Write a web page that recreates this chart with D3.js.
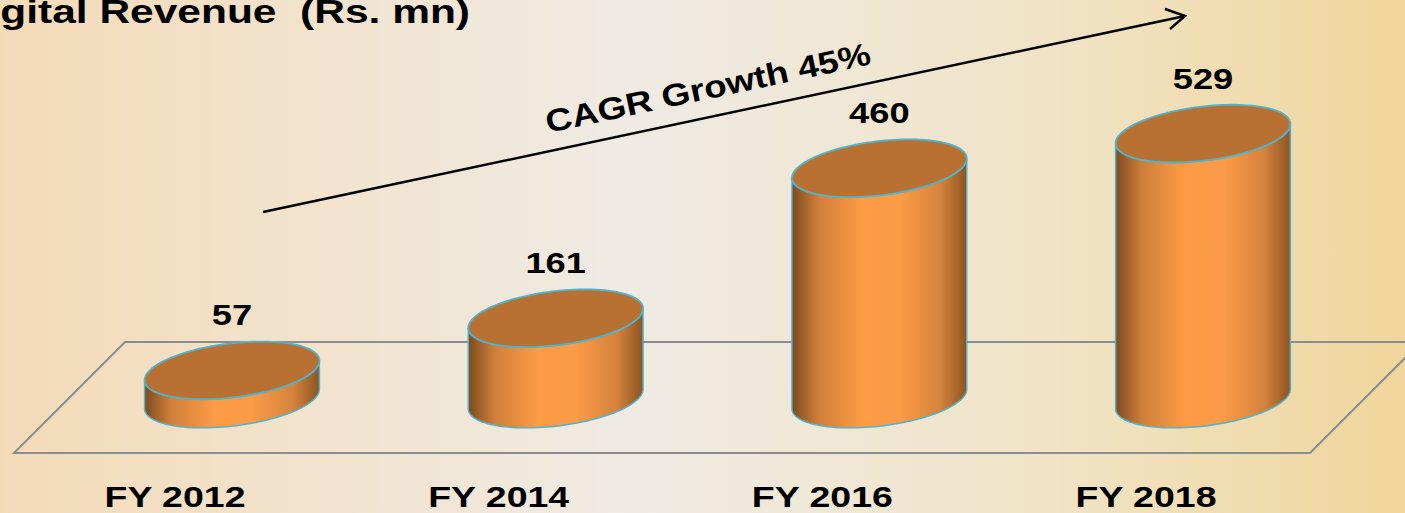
<!DOCTYPE html>
<html>
<head>
<meta charset="utf-8">
<script src="https://cdn.jsdelivr.net/npm/d3@7"></script>
<style>
  body { margin: 0; overflow: hidden; }
  text { font-family: "Liberation Sans", Arial, sans-serif; font-weight: bold; fill: #000; white-space: pre; }
</style>
</head>
<body>
<script>
const categories = ["FY 2012", "FY 2014", "FY 2016", "FY 2018"];
const revenue = [57, 161, 460, 529];
const title = "Digital Revenue  (Rs. mn)";
const cagrLabel = "CAGR Growth 45%";

const width = 1405, height = 513;
const stretch = 1.25; // the slide text is wider than normal

const svg = d3.select("body").append("svg")
    .attr("width", width)
    .attr("height", height);

const defs = svg.append("defs");

// background wash
const bg = defs.append("linearGradient").attr("id", "bg")
    .attr("x1", 0).attr("y1", 0).attr("x2", 1).attr("y2", 0);
bg.append("stop").attr("offset", 0).attr("stop-color", "#f4dbb8");
bg.append("stop").attr("offset", 0.45).attr("stop-color", "#efebe4");
bg.append("stop").attr("offset", 0.75).attr("stop-color", "#f0e3c6");
bg.append("stop").attr("offset", 1).attr("stop-color", "#f0d69c");

// cylinder side shading
const side = defs.append("linearGradient").attr("id", "side")
    .attr("x1", 0).attr("y1", 0).attr("x2", 1).attr("y2", 0);
side.append("stop").attr("offset", 0).attr("stop-color", "#7d4a1f");
side.append("stop").attr("offset", 0.15).attr("stop-color", "#cf7f3a");
side.append("stop").attr("offset", 0.4).attr("stop-color", "#fd9b46");
side.append("stop").attr("offset", 0.62).attr("stop-color", "#fb9a47");
side.append("stop").attr("offset", 0.85).attr("stop-color", "#d5833c");
side.append("stop").attr("offset", 1).attr("stop-color", "#8c5422");

svg.append("rect").attr("width", width).attr("height", height).attr("fill", "url(#bg)");

const x = d3.scalePoint()
    .domain(categories)
    .range([232, 1203]);

const y = d3.scaleLinear()
    .domain([0, 600])
    .range([399, 98]);

// floor plane
const floor = [[125, 342], [1421, 342], [1310, 453], [14, 453]];
svg.append("path")
    .attr("d", d3.line()(floor) + "Z")
    .attr("fill", "none")
    .attr("stroke", "#8c8c8c")
    .attr("stroke-width", 2);

// tilted ellipse helpers
const rx = 88, ry = 27, phi = -7 * Math.PI / 180;
const t0 = Math.atan(-(ry / rx) * Math.tan(phi));
function pt(cx, cy, t) {
  return [cx + rx * Math.cos(t) * Math.cos(phi) - ry * Math.sin(t) * Math.sin(phi),
          cy + rx * Math.cos(t) * Math.sin(phi) + ry * Math.sin(t) * Math.cos(phi)];
}
function arcPts(cx, cy, a, b, n = 60) {
  return d3.range(n + 1).map(i => pt(cx, cy, a + (b - a) * i / n));
}

const line = d3.line();
const bars = svg.selectAll("g.bar")
    .data(categories.map((c, i) => ({cat: c, value: revenue[i]})))
  .enter().append("g")
    .attr("class", "bar");

// body
bars.append("path")
    .attr("d", d => {
      const cx = x(d.cat), base = y(0), top = y(d.value);
      const pts = arcPts(cx, base, t0, t0 + Math.PI)
          .concat(arcPts(cx, top, t0 + Math.PI, t0));
      return line(pts) + "Z";
    })
    .attr("fill", "url(#side)")
    .attr("stroke", "#4fb4cc")
    .attr("stroke-width", 1.5);

// lid
bars.append("path")
    .attr("d", d => line(arcPts(x(d.cat), y(d.value), 0, 2 * Math.PI, 120)) + "Z")
    .attr("fill", "#b97133")
    .attr("stroke", "#4fb4cc")
    .attr("stroke-width", 1.8);

// value labels
bars.append("text")
    .attr("transform", d => `translate(${x(d.cat)},${y(d.value) - 45}) scale(${stretch},1)`)
    .attr("text-anchor", "middle")
    .attr("font-size", 29)
    .text(d => d.value);

// category labels
svg.selectAll("text.cat")
    .data(categories)
  .enter().append("text")
    .attr("class", "cat")
    .attr("transform", d => `translate(${x(d) - 57},507) scale(${stretch},1)`)
    .attr("text-anchor", "middle")
    .attr("font-size", 30)
    .text(d => d);

// title (left part runs off the slide, as in the original)
svg.append("text")
    .attr("transform", `translate(470,23) scale(${stretch},1)`)
    .attr("text-anchor", "end")
    .attr("font-size", 34)
    .text(title);

// growth arrow
const a0 = [263, 212], a1 = [1185, 16];
svg.append("path")
    .attr("d", line([a0, a1]))
    .attr("stroke", "#000")
    .attr("stroke-width", 2.5)
    .attr("fill", "none");
svg.append("path")
    .attr("d", line([[1165, 9], a1, [1170, 29]]))
    .attr("stroke", "#000")
    .attr("stroke-width", 2.5)
    .attr("fill", "none");

svg.append("text")
    .attr("transform", `translate(548,133) rotate(-12) scale(1.17,1)`)
    .attr("font-size", 31.5)
    .text(cagrLabel);
</script>
</body>
</html>
